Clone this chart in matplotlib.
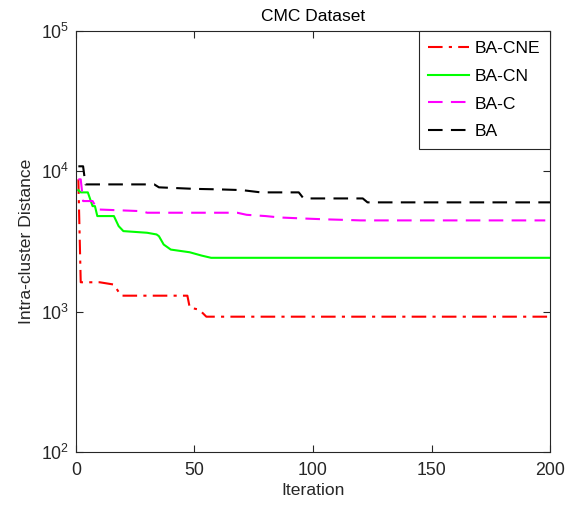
import matplotlib
matplotlib.use("Agg")
import matplotlib.pyplot as plt
from matplotlib.ticker import NullLocator, FixedLocator

plt.rcParams['font.family'] = ['Liberation Sans', 'DejaVu Sans']

# Convergence curves: (iteration, best intra-cluster distance) breakpoints
ba_cne_iter = [1, 2, 10, 16, 19, 47, 48, 52, 55, 200]
ba_cne_val = [8770, 1620, 1620, 1560, 1300, 1300, 1068, 1034, 921, 921]

ba_cn_iter = [1, 2, 5, 7, 8, 9, 16, 18, 20, 30, 34, 35, 37, 40, 48, 53, 57, 200]
ba_cn_val = [7340, 7080, 7080, 5650, 5650, 4800, 4800, 4070, 3750, 3650, 3550, 3450,
             3010, 2770, 2650, 2510, 2420, 2420]

ba_c_iter = [1, 2, 3, 7, 9, 28, 30, 68, 72, 80, 86, 95, 105, 115, 120, 198]
ba_c_val = [8770, 8770, 6140, 6140, 5350, 5200, 5070, 5070, 4900, 4800, 4690, 4620,
            4550, 4500, 4470, 4470]

ba_iter = [1, 3, 4, 33, 35, 50, 60, 70, 78, 94, 96, 121, 123, 200]
ba_val = [10860, 10860, 8070, 8070, 7690, 7500, 7440, 7350, 7080, 7080, 6410, 6410,
          6010, 6010]

labels = ['BA-CNE', 'BA-CN', 'BA-C', 'BA']
x_ticks = [0, 50, 100, 150, 200]
y_ticks = [1e2, 1e3, 1e4, 1e5]

fig = plt.figure(figsize=(5.73, 5.14), dpi=100)
ax = fig.add_axes([0.1326, 0.1206, 0.8273, 0.8191])

ax.plot(ba_cne_iter, ba_cne_val, color='#ff0000', ls=(0, (7, 3, 1.5, 3)), lw=1.5,
        label=labels[0])
ax.plot(ba_cn_iter, ba_cn_val, color='#00ff00', ls='-', lw=1.5, label=labels[1])
ax.plot(ba_c_iter, ba_c_val, color='#ff00ff', ls=(0, (7, 4)), lw=1.5, label=labels[2])
ax.plot(ba_iter, ba_val, color='#000000', ls=(0, (7, 4)), lw=1.5, label=labels[3])

ax.set_yscale('log')
ax.set_xlim(0, 200)
ax.set_ylim(1e2, 1e5)
ax.xaxis.set_major_locator(FixedLocator(x_ticks))
ax.yaxis.set_major_locator(FixedLocator(y_ticks))
ax.yaxis.set_minor_locator(NullLocator())

spine_color = '#262626'
for s in ax.spines.values():
    s.set_color(spine_color)
    s.set_linewidth(0.8)
ax.tick_params(which='both', direction='in', top=True, right=True, length=5,
               width=0.8, color=spine_color, labelsize=12.8, labelcolor='#262626')
ax.tick_params(axis='x', pad=7)
ax.tick_params(axis='y', pad=5)

ax.set_title('CMC Dataset', fontsize=12.5, pad=7, color='#000000')
ax.set_xlabel('Iteration', fontsize=12.6, labelpad=3, color='#262626')
ax.set_ylabel('Intra-cluster Distance', fontsize=12.6, labelpad=5, color='#262626')

leg = ax.legend(loc='upper right', fontsize=12.6, handlelength=2.3, handletextpad=0.35,
                labelspacing=0.72, borderpad=0.55, borderaxespad=0.0,
                fancybox=False, framealpha=1.0, edgecolor=spine_color)
leg.get_frame().set_linewidth(0.8)

fig.savefig('out.png', dpi=100)
